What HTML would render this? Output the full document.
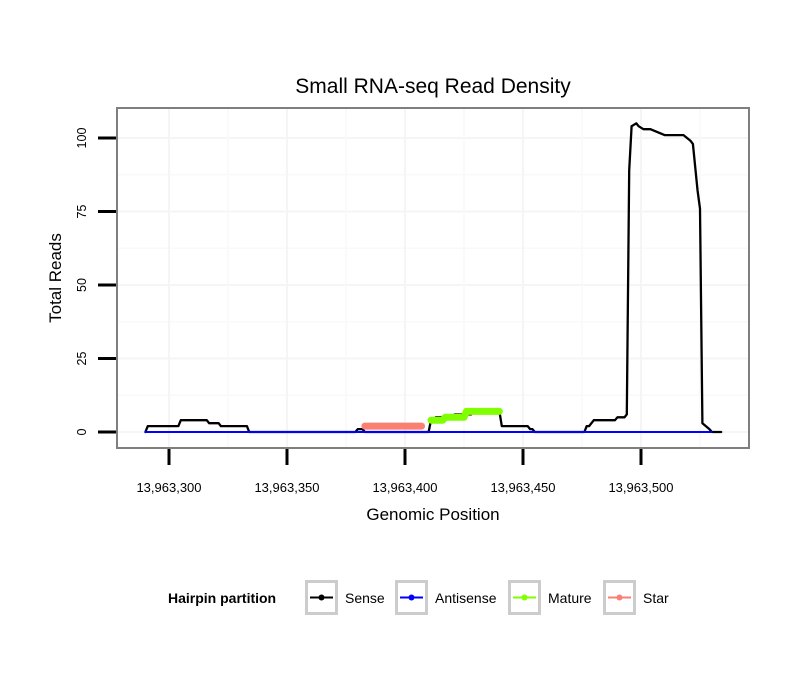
<!DOCTYPE html>
<html><head><meta charset="utf-8"><style>body{margin:0;background:#fff}svg{display:block;font-family:"Liberation Sans",sans-serif}</style></head>
<body>
<svg id="c" width="810" height="690"></svg>
<script>
const senseX=[13963290,13963291,13963304,13963305,13963316,13963317,13963321,13963322,13963333,13963334,13963379,13963380,13963382,13963383,13963406,13963407,13963410,13963411,13963412,13963413,13963420,13963421,13963428,13963429,13963433,13963434,13963440,13963441,13963452,13963453,13963454,13963455,13963476,13963477,13963478,13963480,13963489,13963490,13963493,13963494,13963495,13963496,13963498,13963499,13963501,13963504,13963510,13963518,13963521,13963522,13963524,13963525,13963526,13963529,13963530,13963534];
const senseY=[0,2,2,4,4,3,3,2,2,0,0,1,1,0,0,0,0,4,4,5,5,6,6,7,7,7,7,2,2,1,1,0,0,2,2,4,4,5,5,6,89,104,105,104,103,103,101,101,99,98,82,76,3,1,0,0];
const antiX=[13963290,13963530];
const antiY=[0,0];
const matureX=[13963411,13963416,13963417,13963425,13963426,13963440];
const matureY=[4,4,5,5,7,7];
const starX=[13963383,13963407];
const starY=[2,2];
const xTicks=[13963300,13963350,13963400,13963450,13963500];
const xTickLabels=["13,963,300","13,963,350","13,963,400","13,963,450","13,963,500"];
const yTicks=[0,25,50,75,100];
const L=117,R=749,T=108,B=448;
const xs=v=>169+(v-13963300)*2.36;
const ys=v=>432-v*2.94;
const svg=document.getElementById('c');
const NS='http://www.w3.org/2000/svg';
function mk(t,a,p){const e=document.createElementNS(NS,t);for(const k in a)e.setAttribute(k,a[k]);(p||svg).appendChild(e);return e;}
let e;
e=mk('rect',{x:L,y:T,width:R-L,height:B-T,fill:'#fff'});


for(let i=0;i<yTicks.length;i++){
  e=mk('line',{x1:L,x2:R,y1:ys(yTicks[i]),y2:ys(yTicks[i]),stroke:'#f5f5f5','stroke-width':2});
  
  
  if(i<yTicks.length-1){e=mk('line',{x1:L,x2:R,y1:ys(yTicks[i]+12.5),y2:ys(yTicks[i]+12.5),stroke:'#f9f9f9','stroke-width':1.5});
  
  }
}
for(let i=0;i<xTicks.length;i++){
  e=mk('line',{x1:xs(xTicks[i]),x2:xs(xTicks[i]),y1:T,y2:B,stroke:'#f5f5f5','stroke-width':2});
  
  
  e=mk('line',{x1:xs(xTicks[i]+25),x2:xs(xTicks[i]+25),y1:T,y2:B,stroke:'#f9f9f9','stroke-width':1.5});
  
  
}
function path(X,Y,col,w,name){
  const d=X.map((v,i)=>(i?'L':'M')+xs(v).toFixed(1)+' '+ys(Y[i]).toFixed(1)).join(' ');
  const p=mk('path',{d:d,fill:'none',stroke:col,'stroke-width':w,'stroke-linejoin':'round','stroke-linecap':'round'});
  
  
}
path(senseX,senseY,'#000',2.3,'sense-line');
path(antiX,antiY,'#0000ff',2,'antisense-line');
path(starX,starY,'#fa8072',7,'star-line');
path(matureX,matureY,'#7fff00',7,'mature-line');
e=mk('rect',{x:L,y:T,width:R-L,height:B-T,fill:'none',stroke:'#7f7f7f','stroke-width':2});


for(let i=0;i<yTicks.length;i++){
  const y=ys(yTicks[i]);
  e=mk('line',{x1:98,x2:116,y1:y,y2:y,stroke:'#000','stroke-width':3});
  
  
  e=mk('text',{x:86,y:y,'font-size':12.5,'text-anchor':'middle',transform:`rotate(-90 86 ${y})`});
  e.textContent=yTicks[i];
  
  
}
for(let i=0;i<xTicks.length;i++){
  const x=xs(xTicks[i]);
  e=mk('line',{x1:x,x2:x,y1:449,y2:465,stroke:'#000','stroke-width':3});
  
  
  e=mk('text',{x:x,y:492,'font-size':13,'text-anchor':'middle'});
  e.textContent=xTickLabels[i];
  
  
}
e=mk('text',{x:433,y:93,'font-size':21,'text-anchor':'middle'});e.textContent='Small RNA-seq Read Density';


e=mk('text',{x:433,y:520,'font-size':17,'text-anchor':'middle'});e.textContent='Genomic Position';


e=mk('text',{x:61,y:278,'font-size':17,'text-anchor':'middle',transform:'rotate(-90 61 278)'});e.textContent='Total Reads';


e=mk('text',{x:168,y:603,'font-size':14,'font-weight':'bold'});e.textContent='Hairpin partition';


const legNames=['Sense','Antisense','Mature','Star'];
const legCols=['#000','#0000ff','#7fff00','#fa8072'];
const legBox=[305,395,508,603];
for(let i=0;i<4;i++){
  const g=mk('g',{});
  
  
  mk('rect',{x:legBox[i]+1.5,y:581.5,width:30,height:32,fill:'#fff',stroke:'#cccccc','stroke-width':3},g);
  mk('line',{x1:legBox[i]+5,x2:legBox[i]+28,y1:597.5,y2:597.5,stroke:legCols[i],'stroke-width':2},g);
  mk('circle',{cx:legBox[i]+16.5,cy:597.5,r:3,fill:legCols[i]},g);
  const t=mk('text',{x:legBox[i]+40,y:603,'font-size':14},g);t.textContent=legNames[i];
}
</script>
</body></html>
